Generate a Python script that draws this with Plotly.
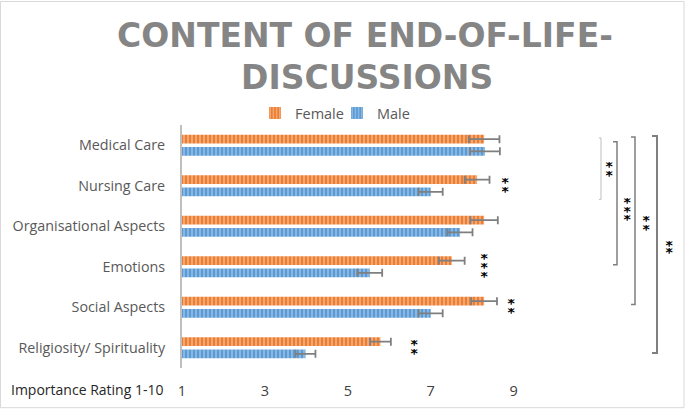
import plotly.graph_objects as go

categories = ["Medical Care", "Nursing Care", "Organisational Aspects", "Emotions",
              "Social Aspects", "Religiosity/ Spirituality"]
female = [8.29, 8.12, 8.29, 7.51, 8.29, 5.79]
female_err = [0.37, 0.30, 0.33, 0.31, 0.31, 0.25]
male = [8.31, 7.00, 7.71, 5.53, 7.00, 3.98]
male_err = [0.36, 0.29, 0.30, 0.30, 0.29, 0.24]
x_ticks = [1, 3, 5, 7, 9]

# significance markers next to bars (category, x position in rating units, number of stars)
sig_cats = ["Nursing Care", "Emotions", "Social Aspects", "Religiosity/ Spirituality"]
sig_x = [8.8, 8.3, 8.95, 6.6]
sig_stars = [2, 3, 2, 2]

W, H = 685, 412
L, R, T, B = 182, 130, 125, 42
PW, PH = W - L - R, H - T - B


def px(x):
    return (x - L) / PW


def py(y):
    return (H - B - y) / PH


ORANGE, ORANGE_L = "#ED7D31", "#F6B98E"
BLUE, BLUE_L = "#5B9BD5", "#9DC3E6"
GREY = "#7F7F7F"
LABEL_FONT = "Open Sans"

fig = go.Figure()
fig.add_trace(go.Bar(
    y=categories, x=[v - 1 for v in female], base=1, orientation="h", name="Female",
    marker=dict(color=ORANGE, line=dict(width=0),
                pattern=dict(shape="|", fgcolor=ORANGE_L, bgcolor=ORANGE, size=4, solidity=0.35, fgopacity=1)),
    error_x=dict(type="data", array=female_err, color=GREY, thickness=1.8, width=4),
))
fig.add_trace(go.Bar(
    y=categories, x=[v - 1 for v in male], base=1, orientation="h", name="Male",
    marker=dict(color=BLUE, line=dict(width=0),
                pattern=dict(shape="|", fgcolor=BLUE_L, bgcolor=BLUE, size=4, solidity=0.35, fgopacity=1)),
    error_x=dict(type="data", array=male_err, color=GREY, thickness=1.8, width=4),
))

annotations = []
TITLE_FONT = dict(family="DejaVu Sans", size=33, color="#858585")
annotations.append(dict(text="<b>CONTENT OF END-OF-LIFE-</b>", xref="paper", yref="paper",
                        x=px(365), y=py(35), xanchor="center", yanchor="middle", showarrow=False,
                        font=TITLE_FONT))
annotations.append(dict(text="<b>DISCUSSIONS</b>", xref="paper", yref="paper",
                        x=px(367), y=py(77), xanchor="center", yanchor="middle", showarrow=False,
                        font=TITLE_FONT))
annotations.append(dict(text="Importance Rating 1-10", xref="paper", yref="paper",
                        x=px(9), y=py(392), xanchor="left", yanchor="middle", showarrow=False,
                        font=dict(family=LABEL_FONT, size=14, color="#262626")))

STAR_FONT = dict(family="DejaVu Sans", size=14, color="#000000")
for c, xv, n in zip(sig_cats, sig_x, sig_stars):
    for k in range(n):
        off = (k - (n - 1) / 2) * 9 - 3
        annotations.append(dict(text="<b>*</b>", x=xv, y=c, xref="x", yref="y", showarrow=False,
                                xanchor="center", yanchor="middle", yshift=-off - 3.5, font=STAR_FONT,
                                height=8, width=9))

# brackets between categories (pixel positions of layout elements)
brackets = [(601, 138, 200, 2, "#BFBFBF", 1), (617, 142, 266, 4, GREY, 1.5),
            (635, 137, 306, 4, GREY, 1.5), (657, 136, 355, 5, GREY, 2)]
bracket_stars = [(609, [163, 172]), (627, [199, 208, 216]), (646, [217, 226]), (669, [242, 250])]
shapes = []
for x, y0, y1, cap, col, w in brackets:
    path = f"M {px(x - cap)} {py(y0)} L {px(x)} {py(y0)} L {px(x)} {py(y1)} L {px(x - cap)} {py(y1)}"
    shapes.append(dict(type="path", path=path, xref="paper", yref="paper", line=dict(color=col, width=w)))
for x, ys in bracket_stars:
    for yv in ys:
        annotations.append(dict(text="<b>*</b>", xref="paper", yref="paper", x=px(x), y=py(yv + 3.5),
                                showarrow=False, xanchor="center", yanchor="middle", font=STAR_FONT,
                                height=8, width=9))

shapes.append(dict(type="rect", xref="paper", yref="paper", x0=px(0.5), x1=px(684), y0=py(0.5), y1=py(410),
                   line=dict(color="#D9D9D9", width=1)))

fig.update_layout(
    width=W, height=H, margin=dict(l=L, r=R, t=T, b=B),
    paper_bgcolor="white", plot_bgcolor="white",
    barmode="group", bargap=0.4, bargroupgap=0.27,
    showlegend=True,
    legend=dict(orientation="h", x=px(255), y=py(113), xanchor="left", yanchor="middle",
                font=dict(family=LABEL_FONT, size=14.5, color="#595959"), entrywidth=37,
                bgcolor="rgba(0,0,0,0)", traceorder="normal"),
    xaxis=dict(range=[1, 10], tickvals=x_ticks, showgrid=False, zeroline=False, showline=False,
               ticks="", ticklabelstandoff=12,
               tickfont=dict(family=LABEL_FONT, size=14.5, color="#404040")),
    yaxis=dict(autorange="reversed", showgrid=False, showline=True, linecolor="#BFBFBF", linewidth=2,
               ticks="", ticklabelstandoff=12,
               tickfont=dict(family=LABEL_FONT, size=14.3, color="#595959")),
    annotations=annotations, shapes=shapes,
)
fig.write_html("out.html", config={"displayModeBar": False},
               post_script="document.body.style.margin='0';document.body.style.overflow='hidden';")
